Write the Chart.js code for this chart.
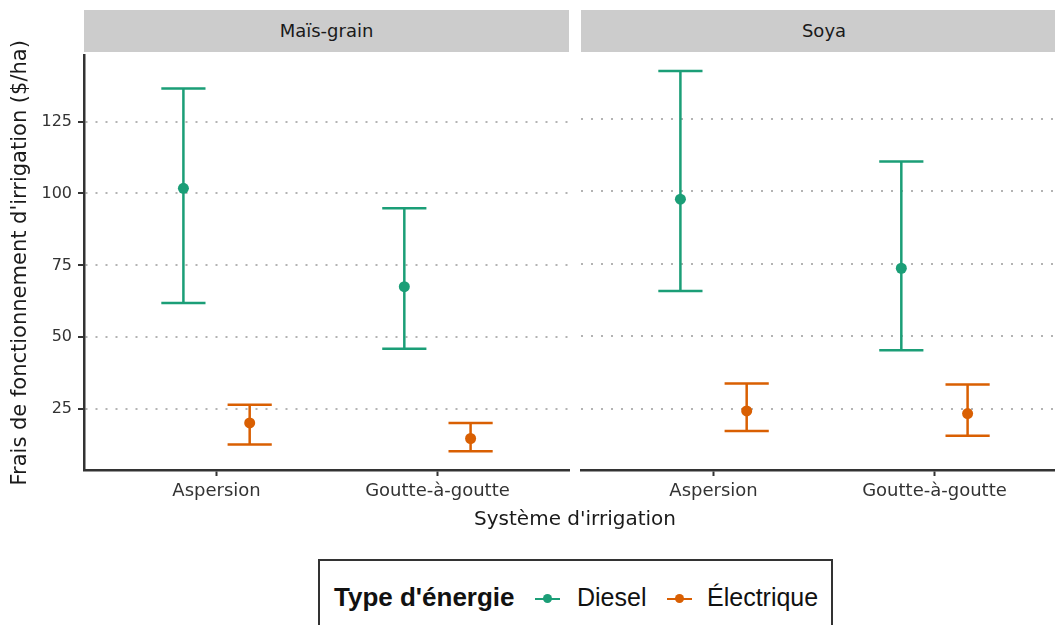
<!DOCTYPE html>
<html>
<head>
<meta charset="utf-8">
<script src="https://cdn.jsdelivr.net/npm/chart.js@4"></script>
<style>
  body { margin: 0; width: 1055px; height: 625px; overflow: hidden; position: relative; background: #fff; font-family: 'DejaVu Sans', sans-serif; }
  .box { position: absolute; }
  .strip { position: absolute; top: 10px; height: 42px; background: #cccccc; color: #1a1a1a; font-size: 18px; line-height: 42px; text-align: center; }
  #xtitle { position: absolute; left: 0; width: 1150px; top: 506px; text-align: center; font-size: 20px; color: #1a1a1a; }
  #legend { position: absolute; left: 318px; top: 559px; width: 515px; height: 80px; border: 2px solid #333; box-sizing: border-box; font-family: 'Liberation Sans', Arial, sans-serif; font-size: 25px; color: #111; }
  #legend .title { position: absolute; left: 14px; top: 22px; font-weight: bold; font-size: 26px; top: 21px; }
  #legend .item { position: absolute; top: 22px; }
  #legend .sym { position: absolute; top: 37px; width: 25px; height: 2px; }
  #legend .sym i { position: absolute; left: 8px; top: -4px; width: 9px; height: 9px; border-radius: 50%; }
</style>
</head>
<body>
<div class="strip" id="strip1" style="left:84px; width:485px;"></div>
<div class="strip" id="strip2" style="left:581px; width:486px;"></div>
<div class="box" style="left:0; top:40px; width:570px; height:470px;"><canvas id="c1"></canvas></div>
<div class="box" style="left:570px; top:40px; width:497px; height:470px;"><canvas id="c2"></canvas></div>
<div id="xtitle"></div>
<div id="legend"></div>
<script>
var crops = ['Maïs-grain', 'Soya'];
var systems = ['Aspersion', 'Goutte-à-goutte'];
var energies = ['Diesel', 'Électrique'];
var energyColors = ['#1b9e77', '#d95f02'];

// Maïs-grain
var maisDieselMean = [101.8, 67.6];
var maisDieselLow = [61.9, 46.0];
var maisDieselHigh = [136.5, 94.9];
var maisElecMean = [20.2, 14.8];
var maisElecLow = [12.7, 10.4];
var maisElecHigh = [26.5, 20.2];

// Soya
var soyaDieselMean = [97.2, 73.4];
var soyaDieselLow = [65.6, 45.1];
var soyaDieselHigh = [141.4, 110.2];
var soyaElecMean = [24.2, 23.3];
var soyaElecLow = [17.3, 15.7];
var soyaElecHigh = [33.7, 33.3];

var yTicks = [25, 50, 75, 100, 125];
var yTitle = "Frais de fonctionnement d'irrigation ($/ha)";
var xTitle = "Système d'irrigation";
var legendTitle = "Type d'énergie";

var dodge = [-0.15, 0.15];
var capHalf = 0.1;
var yMin = 3.85, yMax = 147.95;

function points(mean, low, high, k) {
  return mean.map(function (m, i) {
    return { x: i + 1 + dodge[k], y: m, low: low[i], high: high[i] };
  });
}

var errorBars = {
  id: 'errorBars',
  beforeDatasetsDraw: function (chart) {
    var ctx = chart.ctx, xs = chart.scales.x, ys = chart.scales.y;
    ctx.save();
    chart.data.datasets.forEach(function (ds) {
      ctx.strokeStyle = ds.borderColor;
      ctx.lineWidth = 2.5;
      ds.data.forEach(function (p) {
        var x = xs.getPixelForValue(p.x);
        var x0 = xs.getPixelForValue(p.x - capHalf);
        var x1 = xs.getPixelForValue(p.x + capHalf);
        var yl = ys.getPixelForValue(p.low);
        var yh = ys.getPixelForValue(p.high);
        ctx.beginPath();
        ctx.moveTo(x, yl); ctx.lineTo(x, yh);
        ctx.moveTo(x0, yl); ctx.lineTo(x1, yl);
        ctx.moveTo(x0, yh); ctx.lineTo(x1, yh);
        ctx.stroke();
      });
    });
    ctx.restore();
  }
};

function makeChart(id, dieselData, elecData, first) {
  return new Chart(document.getElementById(id), {
    type: 'scatter',
    data: {
      datasets: [
        { label: energies[0], data: dieselData, backgroundColor: energyColors[0], borderColor: energyColors[0], pointRadius: 5.5, pointHoverRadius: 5.5, borderWidth: 0 },
        { label: energies[1], data: elecData, backgroundColor: energyColors[1], borderColor: energyColors[1], pointRadius: 5.5, pointHoverRadius: 5.5, borderWidth: 0 }
      ]
    },
    options: {
      responsive: true,
      maintainAspectRatio: false,
      animation: false,
      layout: { autoPadding: false, padding: { top: 12, left: first ? 0 : 11, right: 0, bottom: 0 } },
      plugins: { legend: { display: false }, tooltip: { enabled: false } },
      scales: {
        x: {
          type: 'linear', min: 0.4, max: 2.6,
          afterBuildTicks: function (s) { s.ticks = systems.map(function (c, i) { return { value: i + 1 }; }); },
          afterFit: function (s) { s.height = 40; },
          ticks: {
            callback: function (v) { return systems[v - 1]; },
            color: '#333', font: { family: 'DejaVu Sans', size: 18 }, padding: 5, maxRotation: 0
          },
          grid: { drawOnChartArea: false, drawTicks: true, tickLength: 6, tickColor: '#333', tickWidth: 2 },
          border: { display: true, color: '#333', width: 2.5 }
        },
        y: {
          min: yMin, max: yMax,
          afterBuildTicks: function (s) { s.ticks = yTicks.map(function (v) { return { value: v }; }); },
          afterFit: function (s) { s.width = first ? 84 : 0; },
          ticks: {
            display: first,
            color: '#333', font: { family: 'DejaVu Sans', size: 16 }, padding: 6
          },
          grid: { color: '#b3b3b3', lineWidth: 2, drawTicks: first, tickLength: 6, tickColor: '#333', tickWidth: 2, tickBorderDash: [] },
          border: { display: first, color: '#333', width: 2.5, dash: [2, 8] },
          title: {
            display: first, text: yTitle, color: '#1a1a1a',
            font: { family: 'DejaVu Sans', size: 21 }, padding: { top: 8, bottom: 0 }
          }
        }
      }
    },
    plugins: [errorBars]
  });
}

makeChart('c1',
  points(maisDieselMean, maisDieselLow, maisDieselHigh, 0),
  points(maisElecMean, maisElecLow, maisElecHigh, 1), true);
makeChart('c2',
  points(soyaDieselMean, soyaDieselLow, soyaDieselHigh, 0),
  points(soyaElecMean, soyaElecLow, soyaElecHigh, 1), false);

document.getElementById('strip1').textContent = crops[0];
document.getElementById('strip2').textContent = crops[1];
document.getElementById('xtitle').textContent = xTitle;

var legend = document.getElementById('legend');
var html = '<span class="title">' + legendTitle + '</span>';
var symLeft = [215, 347], textLeft = [257, 387];
energies.forEach(function (e, k) {
  html += '<span class="sym" style="left:' + symLeft[k] + 'px;background:' + energyColors[k] + '"><i style="background:' + energyColors[k] + '"></i></span>';
  html += '<span class="item" style="left:' + textLeft[k] + 'px">' + e + '</span>';
});
legend.innerHTML = html;
</script>
</body>
</html>
